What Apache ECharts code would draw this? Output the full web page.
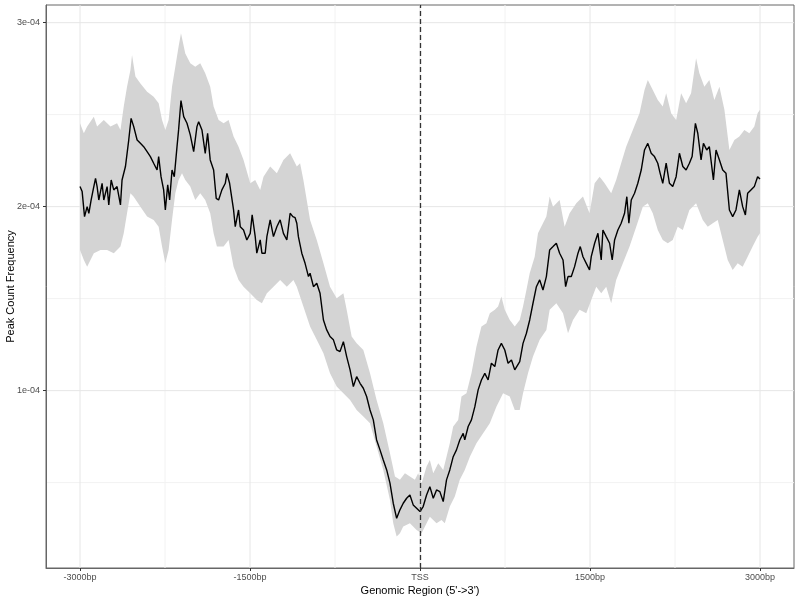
<!DOCTYPE html>
<html>
<head>
<meta charset="utf-8">
<script src="https://cdn.jsdelivr.net/npm/echarts@6/dist/echarts.min.js"></script>
<style>html,body{margin:0;padding:0;background:#fff}#c{width:800px;height:600px}</style>
</head>
<body>
<div id="c"></div>
<script>
// values in units of 1e-4 (peak count frequency)
const UNIT = 1e-4;
const meanX = [-3000,-2981,-2960,-2937,-2922,-2902,-2884,-2863,-2849,-2834,-2805,-2790,-2761,-2746,-2725,-2702,-2673,-2643,-2629,-2599,-2570,-2549,-2526,-2496,-2467,-2438,-2408,-2379,-2350,-2320,-2306,-2285,-2262,-2247,-2226,-2209,-2188,-2168,-2144,-2130,-2109,-2085,-2056,-2027,-1997,-1968,-1953,-1924,-1895,-1874,-1851,-1821,-1798,-1777,-1748,-1718,-1704,-1680,-1645,-1630,-1601,-1586,-1557,-1528,-1498,-1481,-1454,-1440,-1410,-1395,-1366,-1351,-1322,-1293,-1263,-1234,-1205,-1175,-1146,-1122,-1102,-1087,-1073,-1043,-1014,-984,-970,-940,-911,-882,-852,-823,-794,-764,-735,-706,-676,-647,-617,-588,-559,-529,-500,-471,-441,-412,-383,-353,-324,-294,-265,-236,-206,-177,-148,-118,-89,-60,-30,0,28,58,87,117,146,175,205,234,263,293,322,351,381,395,425,454,484,513,542,572,601,630,660,689,718,748,777,807,836,851,880,909,939,968,997,1027,1056,1085,1115,1144,1174,1203,1232,1262,1285,1306,1335,1364,1394,1414,1438,1467,1496,1511,1541,1570,1599,1614,1643,1673,1696,1717,1746,1775,1805,1825,1843,1864,1893,1922,1952,1981,2010,2040,2069,2098,2119,2142,2172,2201,2230,2260,2289,2319,2348,2377,2401,2430,2451,2480,2501,2530,2553,2589,2612,2642,2671,2700,2730,2759,2788,2818,2847,2871,2891,2920,2950,2979,3000];
const meanY = [2.109,2.082,1.946,2.000,1.964,2.036,2.091,2.154,2.109,2.036,2.127,2.036,2.109,2.009,2.145,2.091,2.109,2.009,2.145,2.218,2.362,2.480,2.435,2.362,2.344,2.326,2.299,2.272,2.236,2.199,2.272,2.163,2.091,1.982,2.118,2.036,2.199,2.163,2.326,2.417,2.576,2.489,2.453,2.390,2.299,2.435,2.462,2.417,2.290,2.399,2.254,2.199,2.045,2.036,2.091,2.127,2.181,2.127,1.982,1.891,1.982,1.891,1.873,1.819,1.855,1.955,1.837,1.747,1.819,1.747,1.747,1.837,1.928,1.837,1.891,1.928,1.855,1.819,1.964,1.946,1.940,1.910,1.837,1.747,1.692,1.620,1.638,1.565,1.584,1.529,1.384,1.330,1.294,1.276,1.221,1.212,1.266,1.185,1.113,1.022,1.076,1.040,1.013,0.968,0.895,0.841,0.732,0.678,0.623,0.569,0.497,0.388,0.306,0.352,0.388,0.415,0.433,0.379,0.361,0.343,0.370,0.433,0.478,0.415,0.460,0.451,0.397,0.515,0.569,0.641,0.678,0.732,0.768,0.732,0.805,0.841,0.913,1.004,1.058,1.094,1.058,1.149,1.131,1.221,1.257,1.221,1.149,1.167,1.113,1.103,1.158,1.257,1.312,1.384,1.475,1.565,1.602,1.547,1.620,1.765,1.783,1.801,1.747,1.710,1.565,1.620,1.620,1.674,1.747,1.783,1.728,1.692,1.656,1.728,1.801,1.855,1.710,1.873,1.837,1.801,1.710,1.819,1.873,1.910,1.964,2.054,1.910,2.036,2.073,2.127,2.199,2.308,2.344,2.290,2.272,2.236,2.181,2.127,2.236,2.127,2.109,2.163,2.290,2.218,2.199,2.236,2.272,2.453,2.399,2.254,2.344,2.308,2.326,2.145,2.308,2.254,2.199,2.181,1.982,1.946,1.982,2.091,2.000,1.955,2.073,2.091,2.109,2.163,2.150];

const upperX = [-3000,-2966,-2937,-2878,-2849,-2790,-2731,-2673,-2643,-2614,-2585,-2555,-2541,-2511,-2467,-2408,-2350,-2306,-2276,-2247,-2218,-2188,-2159,-2130,-2109,-2071,-2027,-1983,-1939,-1895,-1851,-1821,-1777,-1733,-1689,-1645,-1601,-1557,-1498,-1454,-1410,-1381,-1322,-1263,-1205,-1146,-1087,-1058,-1029,-970,-911,-852,-794,-735,-676,-647,-603,-559,-500,-441,-383,-324,-265,-221,-177,-133,-89,-45,-16,14,58,87,117,161,205,234,263,293,337,366,410,454,498,542,586,616,660,689,718,748,792,836,880,909,939,968,1012,1041,1085,1115,1144,1174,1232,1276,1320,1379,1438,1496,1541,1585,1629,1687,1731,1775,1819,1878,1937,1981,2010,2054,2098,2142,2172,2216,2260,2304,2348,2392,2436,2465,2509,2553,2597,2642,2686,2730,2774,2818,2862,2906,2950,2979,3000];
const upperY = [2.453,2.399,2.435,2.489,2.435,2.471,2.435,2.453,2.417,2.544,2.652,2.743,2.824,2.707,2.670,2.625,2.598,2.562,2.471,2.417,2.471,2.652,2.761,2.870,2.942,2.833,2.779,2.761,2.779,2.725,2.652,2.544,2.471,2.453,2.471,2.381,2.326,2.254,2.127,2.145,2.091,2.163,2.218,2.181,2.254,2.290,2.218,2.236,2.145,1.928,1.819,1.692,1.565,1.502,1.529,1.439,1.294,1.257,1.221,1.094,0.949,0.823,0.660,0.533,0.515,0.551,0.533,0.515,0.551,0.497,0.587,0.623,0.551,0.605,0.569,0.641,0.714,0.805,0.841,0.968,0.986,1.094,1.239,1.348,1.366,1.420,1.439,1.457,1.511,1.439,1.384,1.348,1.384,1.457,1.547,1.638,1.728,1.855,1.910,1.946,2.055,2.000,2.036,1.891,1.964,2.018,2.055,1.964,2.127,2.163,2.127,2.073,2.145,2.236,2.326,2.417,2.507,2.634,2.689,2.634,2.580,2.544,2.616,2.507,2.471,2.616,2.562,2.616,2.806,2.725,2.652,2.689,2.580,2.652,2.526,2.308,2.362,2.381,2.417,2.399,2.435,2.507,2.526];

const lowerX = [-3000,-2966,-2937,-2878,-2819,-2761,-2702,-2643,-2614,-2585,-2555,-2526,-2467,-2408,-2350,-2306,-2276,-2247,-2218,-2188,-2159,-2130,-2100,-2071,-2027,-1983,-1939,-1895,-1851,-1821,-1792,-1733,-1689,-1645,-1601,-1557,-1498,-1440,-1395,-1351,-1293,-1234,-1175,-1117,-1087,-1029,-970,-911,-852,-794,-735,-676,-617,-559,-500,-441,-383,-324,-265,-236,-206,-177,-148,-89,-30,14,58,87,146,190,219,263,307,351,395,440,498,557,616,674,733,792,836,880,909,953,997,1056,1115,1144,1203,1262,1306,1350,1408,1467,1511,1555,1599,1643,1687,1731,1790,1849,1908,1966,2010,2054,2098,2142,2186,2230,2274,2319,2377,2436,2495,2539,2583,2627,2671,2715,2759,2803,2847,2891,2935,2979,3000];
const lowerY = [1.765,1.710,1.674,1.747,1.765,1.765,1.747,1.783,1.855,1.964,2.073,2.054,2.000,1.946,1.928,1.891,1.783,1.692,1.765,1.928,2.073,2.145,2.181,2.145,2.109,2.036,2.073,2.036,1.964,1.855,1.783,1.783,1.819,1.674,1.602,1.565,1.529,1.493,1.475,1.529,1.565,1.602,1.565,1.602,1.565,1.457,1.348,1.276,1.203,1.094,1.022,0.986,0.949,0.895,0.859,0.823,0.696,0.569,0.406,0.279,0.207,0.225,0.261,0.279,0.243,0.225,0.279,0.315,0.279,0.297,0.279,0.370,0.424,0.515,0.569,0.641,0.714,0.768,0.823,0.913,0.986,0.968,0.895,0.895,0.986,1.094,1.185,1.276,1.330,1.439,1.475,1.420,1.312,1.384,1.439,1.420,1.493,1.565,1.529,1.565,1.475,1.602,1.692,1.783,1.891,2.000,2.018,1.964,1.873,1.819,1.801,1.819,1.891,1.873,1.982,2.018,1.928,1.891,1.910,1.928,1.819,1.710,1.656,1.692,1.674,1.728,1.783,1.837,1.855];

const xTicks = [-3000, -1500, 0, 1500, 3000];
const xMinor = [-2250, -750, 750, 2250];
const yTicks = [1, 2, 3];
const yMinor = [0.5, 1.5, 2.5];
const tssX = 0;

const FONT = '"Liberation Sans", Arial, Helvetica, sans-serif';
const chart = echarts.init(document.getElementById('c'), null, {renderer: 'canvas'});

const lineData = meanX.map((x, i) => [x, meanY[i] * UNIT]);

chart.setOption({
  animation: false,
  backgroundColor: '#ffffff',
  grid: {left: 46, right: 6, top: 5, bottom: 32, containLabel: false, outerBoundsMode: 'none',
    show: true, borderColor: '#666666', borderWidth: 1, backgroundColor: 'transparent'},
  xAxis: {
    type: 'value', min: -3300, max: 3300,
    axisLine: {show: true, onZero: false, lineStyle: {color: '#666666', width: 1}},
    axisTick: {show: true, length: 3, customValues: xTicks, lineStyle: {color: '#333333'}},
    axisLabel: {customValues: xTicks, margin: 5, color: '#4d4d4d', fontSize: 9, fontFamily: FONT,
      formatter: v => (v === 0 ? 'TSS' : v + 'bp')},
    splitLine: {show: false},
    name: "Genomic Region (5'->3')", nameLocation: 'middle', nameGap: 17, nameMoveOverlap: false,
    nameTextStyle: {color: '#000', fontSize: 11, fontFamily: FONT}
  },
  yAxis: {
    type: 'value', min: 0.036 * UNIT, max: 3.096 * UNIT,
    axisLine: {show: true, onZero: false, lineStyle: {color: '#666666', width: 1}},
    axisTick: {show: true, length: 3, customValues: yTicks.map(v => v * UNIT), lineStyle: {color: '#333333'}},
    axisLabel: {customValues: yTicks.map(v => v * UNIT), margin: 6, color: '#4d4d4d', fontSize: 9, fontFamily: FONT,
      formatter: v => Math.round(v / UNIT) + 'e-04'},
    splitLine: {show: false},
    name: 'Peak Count Frequency', nameLocation: 'middle', nameGap: 30, nameMoveOverlap: false,
    nameTextStyle: {color: '#000', fontSize: 11, fontFamily: FONT}
  },
  series: [
    {
      // panel grid lines (major + minor), drawn through the axes
      type: 'custom', z: 0, silent: true, clip: true,
      data: [[0, UNIT]],
      renderItem: function (params, api) {
        const cs = params.coordSys;
        const children = [];
        const vline = (v, col) => {
          const p = api.coord([v, UNIT]);
          children.push({type: 'line', shape: {x1: p[0], y1: cs.y, x2: p[0], y2: cs.y + cs.height},
            style: {stroke: col, lineWidth: 1}});
        };
        const hline = (v, col) => {
          const p = api.coord([0, v * UNIT]);
          children.push({type: 'line', shape: {x1: cs.x, y1: p[1], x2: cs.x + cs.width, y2: p[1]},
            style: {stroke: col, lineWidth: 1}});
        };
        xMinor.forEach(v => vline(v, '#f2f2f2'));
        yMinor.forEach(v => hline(v, '#f2f2f2'));
        xTicks.forEach(v => vline(v, '#e6e6e6'));
        yTicks.forEach(v => hline(v, '#e6e6e6'));
        return {type: 'group', children: children};
      }
    },
    {
      type: 'custom', z: 1, silent: true, clip: true,
      data: [[0, UNIT]],
      renderItem: function (params, api) {
        const pts = [];
        for (let i = 0; i < upperX.length; i++) pts.push(api.coord([upperX[i], upperY[i] * UNIT]));
        for (let i = lowerX.length - 1; i >= 0; i--) pts.push(api.coord([lowerX[i], lowerY[i] * UNIT]));
        return {type: 'polygon', shape: {points: pts}, style: {fill: '#d4d4d4', stroke: null}};
      }
    },
    {
      type: 'line', data: lineData, z: 3, showSymbol: false, symbol: 'none', silent: true,
      lineStyle: {color: '#000000', width: 1.4},
      markLine: {silent: true, symbol: 'none', label: {show: false}, animation: false,
        data: [{xAxis: tssX, lineStyle: {color: '#333333', width: 1.3, type: [5, 3]}}]}
    }
  ]
});
</script>
</body>
</html>
